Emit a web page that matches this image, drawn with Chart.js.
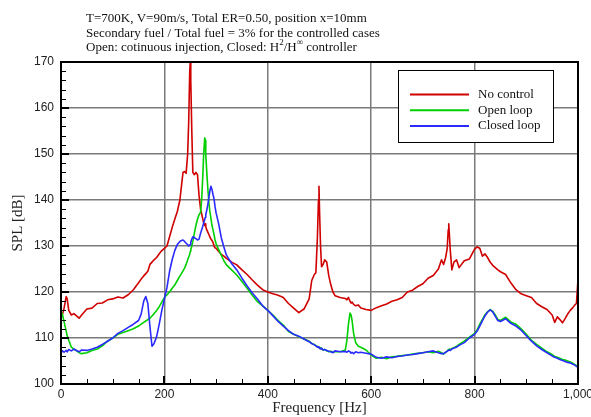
<!DOCTYPE html>
<html><head><meta charset="utf-8">
<script src="https://cdn.jsdelivr.net/npm/chart.js@4"></script>
<style>html,body{margin:0;padding:0;background:#fff}#wrap{width:591px;height:417px}</style>
</head><body><div id="wrap"><canvas id="c" width="591" height="417"></canvas></div>
<script>
// Frequency grid [Hz]
const freq = [
 0,3,6,10,12,15,20,25,30,35,
 40,50,60,70,80,90,100,110,120,130,
 140,150,155,160,164,168,172,176,180,185,
 190,195,200,205,210,215,220,225,230,233,
 236,239,242,245,247,249,250,251,253,255,
 258,261,264,267,270,272,274,276,278,279,
 280,282,284,286,288,290,292,294,296,298,
 300,305,310,315,320,330,340,350,360,370,
 380,390,400,410,420,430,440,450,460,470,
 480,485,490,493,496,498,499,500,502,504,
 507,510,514,518,522,526,530,540,550,553,
 556,559,561,563,566,570,575,580,590,600,
 610,620,630,640,650,660,670,680,690,700,
 710,720,730,736,740,744,747,749,750,751,
 753,756,760,765,770,780,790,800,805,810,
 815,820,825,830,835,840,845,850,860,870,
 880,890,900,910,920,930,940,950,955,960,
 965,970,975,980,985,990,994,997,1000
];
// SPL [dB] — No control
const noControl = [
 115.5,115.2,116.5,119.0,118.5,116.0,115.0,115.3,114.8,114.3,
 115.0,116.3,116.5,117.5,117.6,118.3,118.5,118.9,118.7,119.4,
 120.5,122.0,122.8,123.5,124.0,124.5,126.0,126.5,127.0,127.5,
 128.3,129.0,129.5,130.0,132.0,134.0,135.8,137.5,140.0,143.0,
 146.0,146.2,145.8,150.0,157.0,168.0,170.0,166.0,155.0,146.0,
 145.5,146.0,145.5,141.0,138.0,137.0,136.0,135.0,134.5,134.8,
 134.2,133.5,133.0,132.5,132.0,131.5,131.2,130.8,130.0,129.6,
 129.5,128.8,128.2,127.8,127.3,126.5,125.9,124.8,123.8,122.6,
 121.5,120.5,120.0,119.6,119.3,118.8,117.5,116.5,115.5,116.3,
 118.5,122.5,123.8,124.2,132.0,140.0,143.0,138.0,130.0,125.5,
 126.0,127.0,126.5,123.5,121.5,120.0,119.2,118.8,118.6,118.3,
 118.8,118.0,117.6,117.8,117.3,117.0,117.2,116.5,116.2,116.0,
 116.6,117.0,117.4,118.0,118.3,118.8,120.0,120.4,121.2,121.8,
 123.0,123.6,125.0,127.0,126.0,127.5,129.5,133.5,134.8,133.0,
 129.0,124.8,126.5,127.0,125.3,126.8,127.2,129.3,129.8,129.5,
 127.8,128.3,127.5,126.5,125.8,125.3,124.8,124.4,123.8,122.0,
 120.5,119.6,119.2,118.8,117.5,116.8,116.2,115.0,113.4,114.6,
 114.0,113.3,114.2,115.2,116.0,116.6,117.2,117.5,122.8
];
// SPL [dB] — Open loop
const openLoop = [
 116.0,115.0,113.5,111.5,110.5,109.5,108.0,107.6,107.2,106.8,
 106.6,106.8,107.3,107.6,108.3,109.3,110.0,110.8,111.2,111.6,
 112.0,112.6,113.0,113.4,113.7,114.0,114.3,114.8,115.3,116.0,
 116.8,117.8,118.8,119.4,120.0,120.8,121.5,122.5,123.5,124.0,
 124.6,125.2,126.0,127.0,127.6,128.2,128.8,129.2,130.0,131.0,
 132.8,134.5,135.8,136.8,137.3,140.0,144.5,150.0,153.5,153.0,
 150.0,146.0,142.5,139.5,137.5,136.0,134.5,133.5,132.5,131.3,
 130.5,129.2,128.0,126.8,125.9,124.8,123.7,122.3,120.8,119.3,
 117.9,117.0,116.0,115.0,113.8,112.8,111.4,110.8,110.3,109.8,
 109.3,108.8,108.6,108.3,108.2,108.0,107.9,107.8,107.9,107.6,
 107.4,107.5,107.2,107.0,107.1,106.9,107.0,107.0,107.4,109.5,
 113.0,115.4,115.0,113.8,111.0,109.0,108.2,108.0,107.4,106.3,
 105.6,105.8,105.5,105.9,106.0,106.2,106.3,106.5,106.7,106.8,
 107.0,106.8,107.1,106.8,106.5,106.9,107.2,107.4,107.5,107.6,
 107.5,107.7,107.9,108.2,108.6,109.3,110.2,111.0,111.8,113.0,
 114.0,115.0,115.7,116.2,115.8,115.0,114.0,113.8,114.5,113.5,
 113.0,112.0,110.8,109.5,108.6,107.8,107.0,106.4,106.0,105.8,
 105.6,105.3,105.2,105.0,104.8,104.5,104.2,104.0,103.9
];
// SPL [dB] — Closed loop
const closedLoop = [
 106.8,107.2,106.9,107.3,107.0,107.5,107.2,107.6,107.3,107.0,
 107.4,107.3,107.6,108.0,108.6,109.3,110.0,111.0,111.6,112.3,
 113.0,113.8,115.2,118.0,119.0,117.5,112.5,108.2,108.8,110.3,
 113.0,116.0,118.5,121.0,124.5,127.0,129.0,130.3,131.0,131.2,
 131.3,131.0,130.6,130.3,130.0,130.2,130.3,130.8,131.5,132.0,
 131.8,131.6,131.3,131.5,132.8,133.5,134.2,135.0,135.8,136.2,
 136.8,137.8,139.0,140.5,142.0,143.0,142.3,141.2,140.3,138.5,
 137.2,134.8,131.8,129.8,128.0,126.2,124.8,123.0,121.3,119.8,
 118.5,117.0,116.0,114.8,113.6,112.6,111.6,110.8,110.4,109.8,
 109.2,108.8,108.5,108.3,108.0,108.1,107.9,107.8,107.6,107.8,
 107.4,107.5,107.3,107.1,107.0,106.8,107.2,107.0,107.1,106.9,
 107.2,107.0,106.7,106.9,106.6,107.0,106.8,106.9,106.7,106.5,
 105.8,105.6,105.9,105.7,106.0,106.1,106.3,106.4,106.6,106.8,
 107.0,107.2,106.8,106.6,106.6,106.9,107.1,107.3,107.4,107.4,
 107.3,107.6,107.8,108.0,108.4,109.0,110.0,110.8,111.5,112.6,
 113.7,114.8,115.6,116.1,115.7,114.7,113.8,113.6,114.2,113.2,
 112.6,111.7,110.5,109.3,108.3,107.5,106.8,106.1,105.8,105.6,
 105.3,105.1,104.9,104.7,104.6,104.3,104.1,103.8,103.7
];
const seriesNames = ['No control','Open loop','Closed loop'];
const seriesColors = ['#d00000','#00d000','#2a2aff'];
const xRange = [0, 1000], xStep = 200, xMinor = 50;
const yRange = [100, 170], yStep = 10, yMinor = 2;
const xTitle = 'Frequency [Hz]';
const yTitle = 'SPL [dB]';
const titleLines = [
  [{t:'T=700K, V=90m/s, Total ER=0.50, position x=10mm'}],
  [{t:'Secondary fuel / Total fuel = 3% for the controlled cases'}],
  [{t:'Open: cotinuous injection, Closed: H'},{t:'2',sup:true},{t:'/H'},{t:'\u221E',sup:true},{t:' controller'}]
];

const SERIF = '"Liberation Serif","Times New Roman",serif';
const SANS = '"Liberation Sans",Arial,sans-serif';

const seriesData = [noControl, openLoop, closedLoop];
const datasets = seriesData.map((vals, i) => ({
  label: seriesNames[i],
  data: freq.map((f, k) => ({x: f, y: vals[k]})),
  borderColor: seriesColors[i],
  backgroundColor: seriesColors[i],
  borderWidth: 1.6,
  pointRadius: 0,
  tension: 0,
  fill: false,
  order: 3 - i,
  borderJoinStyle: 'round'
}));

const decor = {
  id: 'decor',
  afterDatasetsDraw(chart) {
    const {ctx, chartArea: a, scales: {x, y}} = chart;
    ctx.save();
    ctx.strokeStyle = '#000';
    for (let v = xRange[0]; v <= xRange[1]; v += xMinor) {
      const px = Math.round(x.getPixelForValue(v));
      const major = v % xStep === 0;
      ctx.lineWidth = major ? 2 : 1;
      ctx.beginPath();
      ctx.moveTo(px + (major ? 0 : 0.5), a.bottom);
      ctx.lineTo(px + (major ? 0 : 0.5), a.bottom - (major ? 8 : 5));
      ctx.stroke();
    }
    for (let v = yRange[0]; v <= yRange[1]; v += yMinor) {
      const py = Math.round(y.getPixelForValue(v));
      const major = v % yStep === 0;
      ctx.lineWidth = major ? 2 : 1;
      ctx.beginPath();
      ctx.moveTo(a.left, py + (major ? 0 : 0.5));
      ctx.lineTo(a.left + (major ? 8 : 5), py + (major ? 0 : 0.5));
      ctx.stroke();
    }
    ctx.lineWidth = 2;
    ctx.strokeRect(a.left, a.top, a.right - a.left, a.bottom - a.top);

    // legend
    const lx = a.left + 337, ly = a.top + 8, lw = 155, lh = 72;
    ctx.fillStyle = '#fff';
    ctx.fillRect(lx, ly, lw, lh);
    ctx.lineWidth = 1;
    ctx.strokeStyle = '#000';
    ctx.strokeRect(lx + 0.5, ly + 0.5, lw, lh);
    ctx.font = '13px ' + SERIF;
    ctx.textBaseline = 'middle';
    ctx.fillStyle = '#111';
    chart.data.datasets.forEach((ds, i) => {
      const yy = ly + 24.5 + i * 15.7;
      ctx.strokeStyle = ds.borderColor;
      ctx.lineWidth = 2;
      ctx.beginPath();
      ctx.moveTo(lx + 12, yy);
      ctx.lineTo(lx + 71, yy);
      ctx.stroke();
      ctx.fillText(ds.label, lx + 80, yy);
    });
    ctx.restore();
  },
  afterDraw(chart) {
    const ctx = chart.ctx;
    ctx.save();
    ctx.fillStyle = '#111';
    ctx.textBaseline = 'alphabetic';
    const baselines = [22, 36.5, 51];
    titleLines.forEach((parts, i) => {
      let xx = 86;
      parts.forEach(p => {
        ctx.font = (p.sup ? '9px ' : '13px ') + SERIF;
        ctx.fillText(p.t, xx, baselines[i] - (p.sup ? 6 : 0));
        xx += ctx.measureText(p.t).width;
      });
    });
    ctx.restore();
  }
};

new Chart(document.getElementById('c'), {
  type: 'line',
  data: {datasets},
  options: {
    responsive: false,
    animation: false,
    devicePixelRatio: 1,
    layout: {padding: {top: 62, right: 13, left: 0, bottom: 0}},
    plugins: {legend: {display: false}, tooltip: {enabled: false}, title: {display: false}},
    scales: {
      x: {
        type: 'linear', min: xRange[0], max: xRange[1],
        ticks: {stepSize: xStep, font: {family: SANS, size: 12}, color: '#222', padding: 3, maxRotation: 0, autoSkip: false},
        grid: {color: '#7a7a7a', lineWidth: 1.5, drawTicks: false},
        border: {display: false},
        title: {display: true, text: xTitle, font: {family: SERIF, size: 15, lineHeight: 1.2}, color: '#222', padding: {top: 0, bottom: 0}},
        afterFit(s) { s.height = 33; s.paddingLeft = 0; s.paddingRight = 0; }
      },
      y: {
        type: 'linear', min: yRange[0], max: yRange[1],
        ticks: {stepSize: yStep, font: {family: SANS, size: 12}, color: '#222', padding: 7},
        grid: {color: '#7a7a7a', lineWidth: 1.5, drawTicks: false},
        border: {display: false},
        title: {display: true, text: yTitle, font: {family: SERIF, size: 15, lineHeight: 1.2}, color: '#222', padding: {top: 9.5, bottom: 0}},
        afterFit(s) { s.width = 61; s.paddingTop = 0; s.paddingBottom = 0; }
      }
    }
  },
  plugins: [decor]
});
</script>
</body></html>
